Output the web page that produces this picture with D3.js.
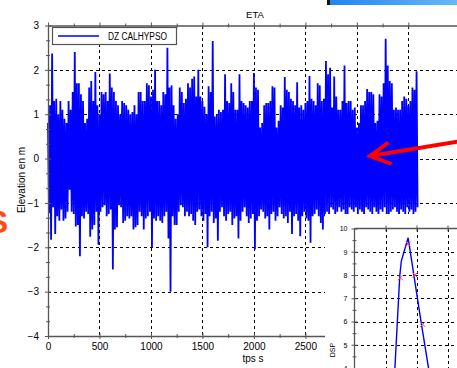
<!DOCTYPE html>
<html><head><meta charset="utf-8">
<script src="https://cdn.jsdelivr.net/npm/d3@7"></script>
<style>
html,body{margin:0;padding:0;background:#fff;overflow:hidden;}
svg{display:block;font-family:"Liberation Sans",Arial,Helvetica,sans-serif;}
</style></head><body>
<svg id="fig" width="457" height="368"></svg>
<script>
// Wave record DZ CALHYPSO: successive crest and trough elevations (m), one wave every dt seconds
const dt = 20;
const crest = [
 0.8,1.2,2.37,1.3,1.35,1.0,1.3,1.1,0.9,0.8, 1.3,1.1,1.5,2.4,1.7,1.7,1.45,1.3,0.8,0.9,
 1.6,1.75,1.3,1.95,1.2,1.0,1.5,1.45,1.5,1.3, 1.92,1.6,1.5,1.3,1.2,1.0,1.3,1.25,1.2,1.1,
 1.0,1.05,1.2,1.0,1.5,1.5,1.3,1.3,1.7,1.65, 1.4,1.55,2.0,1.3,1.3,1.2,1.5,1.45,2.5,1.6,
 1.65,1.2,0.9,1.0,1.6,1.5,1.25,1.35,1.7,1.6, 1.8,1.85,1.4,2.0,1.4,1.3,1.17,1.0,1.63,1.5,
 2.65,0.95,1.0,1.1,1.05,1.1,1.9,1.3,1.25,1.7, 1.5,1.1,1.1,1.9,1.3,1.25,1.2,1.15,1.3,1.3,
 1.93,1.6,1.55,0.7,0.8,1.2,1.25,1.25,1.3,1.63, 1.6,0.7,0.85,1.2,1.15,1.84,1.55,1.5,1.35,1.3,
 1.2,1.72,1.15,1.2,1.1,1.25,1.3,1.86,1.35,1.3, 1.2,1.7,1.65,1.3,1.35,2.2,1.9,2.05,1.15,1.85,
 1.4,1.1,1.1,1.3,2.1,1.25,1.3,1.3,1.1,1.15, 0.7,0.8,1.2,1.2,1.3,1.57,1.5,1.5,1.45,0.8,
 0.85,1.45,1.4,1.7,2.7,2.1,1.75,1.7,1.1,1.15, 1.1,1.1,1.3,1.4,1.35,1.2,1.3,1.6,1.55,1.97
];
const trough = [
 -1.23,-1.83,-1.1,-1.7,-1.3,-1.4,-1.15,-1.4,-1.35,-1.2, -0.7,-1.2,-1.25,-1.53,-1.5,-2.2,-1.3,-1.35,-1.2,-1.25,
 -1.76,-1.6,-1.5,-1.2,-1.94,-1.2,-1.1,-1.05,-1.3,-1.25, -1.15,-2.5,-1.6,-1.55,-1.05,-1.1,-1.45,-1.4,-1.3,-1.35,
 -1.3,-1.6,-1.55,-1.5,-1.2,-1.3,-1.6,-1.35,-1.3,-1.2, -2.0,-1.35,-1.4,-1.3,-1.4,-1.45,-1.3,-1.2,-1.8,-3.0,
 -1.3,-1.5,-1.5,-1.2,-1.05,-1.1,-1.3,-1.2,-1.3,-1.25, -1.4,-1.5,-1.2,-1.15,-1.3,-1.4,-1.25,-2.0,-1.3,-1.2,
 -1.45,-1.35,-1.85,-1.2,-1.1,-1.3,-1.4,-1.25,-1.2,-1.5, -1.35,-1.3,-1.8,-1.4,-1.2,-1.1,-1.3,-1.45,-1.35,-1.25,
 -2.05,-1.4,-1.3,-1.15,-1.2,-1.35,-1.3,-1.6,-1.25,-1.2, -1.4,-1.3,-1.1,-1.25,-1.35,-1.3,-1.45,-1.2,-1.7,-1.3,
 -1.25,-1.4,-1.75,-1.3,-1.2,-1.35,-1.4,-1.9,-1.3,-1.25, -1.15,-1.3,-1.45,-1.6,-1.3,-1.2,-1.25,-1.1,-1.15,-1.3,
 -1.2,-1.1,-1.2,-1.15,-1.25,-1.3,-1.1,-1.15,-1.2,-1.1, -1.25,-1.15,-1.2,-1.3,-1.1,-1.15,-1.2,-1.25,-1.1,-1.2,
 -1.3,-1.15,-1.2,-1.1,-1.25,-1.3,-1.2,-1.15,-1.1,-1.2, -1.3,-1.15,-1.2,-1.25,-1.1,-1.2,-1.15,-1.25,-1.2,-1.1
];

// Axis ticks of the ETA plot
const xTicks = [0,500,1000,1500,2000,2500,3000,3500];
const yTicks = [-4,-3,-2,-1,0,1,2,3];

// DSP panel: spectrum curve and its reference points
const dspT = [1.28,1.46,1.51,1.73,2.15,2.46];
const dspV = [3.4,7.96,8.6,9.6,5.96,3.4];
const markT = [1.48,1.73,1.95,2.20];
const markV = [7.88,9.33,8.0,5.88];
const dspYTicks = [4,5,6,7,8,9,10];
const dspXGrid = [1,2,3];

const svg = d3.select('#fig');
const AX = '#555';

const x = d3.scaleLinear().domain([0,4000]).range([48,459.8]);
const y = d3.scaleLinear().domain([-4,3]).range([336,25.5]);

// minor tick positions between majors
function minors(majors, n){
  const out=[];
  for(let k=0;k<majors.length-1;k++){
    const a=majors[k], b=majors[k+1];
    for(let j=1;j<=n;j++) out.push(a+(b-a)*j/(n+1));
  }
  return out;
}

// title
svg.append('text').attr('x',255).attr('y',17.5).attr('text-anchor','middle')
  .attr('font-size',9.5).text('ETA');

// grid
const grid = svg.append('g').attr('stroke','#000').attr('stroke-width',1)
  .attr('stroke-dasharray','3,3').attr('shape-rendering','crispEdges');
grid.selectAll('.gv').data(xTicks.filter(d=>d>0)).join('line')
  .attr('x1',d=>Math.round(x(d))+0.5).attr('x2',d=>Math.round(x(d))+0.5)
  .attr('y1',y(3)).attr('y2',y(-4));
grid.selectAll('.gh').data(yTicks.filter(d=>d>-4 && d<3)).join('line')
  .attr('y1',d=>Math.round(y(d))+0.5).attr('y2',d=>Math.round(y(d))+0.5)
  .attr('x1',x(0)).attr('x2',460);

// wave series: crest then trough for each wave
const series = [];
crest.forEach((c,i)=>{
  series.push([i*dt, c]);
  series.push([i*dt+dt/2, trough[i]]);
});
svg.append('path').datum(series)
  .attr('fill','none').attr('stroke','#0000ff').attr('stroke-width',1.8)
  .attr('stroke-linejoin','bevel')
  .attr('d', d3.line().x(d=>x(d[0])).y(d=>y(d[1])));

// axes with ticks crossing the axis line
function styleAxis(g, fs){
  g.select('.domain').attr('stroke',AX).attr('stroke-width',1.3);
  g.selectAll('.tick line').attr('stroke',AX).attr('stroke-width',1);
  g.selectAll('.tick text').attr('fill','#000').attr('font-size',fs)
    .attr('font-family','"Liberation Sans",Arial,sans-serif');
}
const gLeft = svg.append('g').attr('transform','translate(48,0)')
  .call(d3.axisLeft(y).tickValues(yTicks).tickSize(3).tickSizeOuter(0).tickPadding(6).tickFormat(d3.format('d')));
gLeft.selectAll('.tick line').attr('x1',3);
styleAxis(gLeft,10);
const gLeftMin = svg.append('g').attr('transform','translate(48,0)')
  .call(d3.axisLeft(y).tickValues(minors(yTicks,2)).tickSize(2).tickSizeOuter(0).tickFormat(''));
gLeftMin.select('.domain').remove();
gLeftMin.selectAll('.tick line').attr('x1',2).attr('stroke',AX);

const gBot = svg.append('g').attr('transform','translate(0,336)')
  .call(d3.axisBottom(x).tickValues(xTicks).tickSize(3).tickSizeOuter(0).tickPadding(4).tickFormat(d3.format('d')));
gBot.selectAll('.tick line').attr('y1',-3);
styleAxis(gBot,10);
const gBotMin = svg.append('g').attr('transform','translate(0,336)')
  .call(d3.axisBottom(x).tickValues(minors(xTicks,1)).tickSize(2).tickSizeOuter(0).tickFormat(''));
gBotMin.select('.domain').remove();
gBotMin.selectAll('.tick line').attr('y1',-2).attr('stroke',AX);

const gTop = svg.append('g').attr('transform','translate(0,25.5)')
  .call(d3.axisTop(x).tickValues(xTicks).tickSize(3).tickSizeOuter(0).tickFormat(''));
gTop.selectAll('.tick line').attr('y1',3);
styleAxis(gTop,10);
const gTopMin = svg.append('g').attr('transform','translate(0,25.5)')
  .call(d3.axisTop(x).tickValues(minors(xTicks,1)).tickSize(2).tickSizeOuter(0).tickFormat(''));
gTopMin.select('.domain').remove();
gTopMin.selectAll('.tick line').attr('y1',2).attr('stroke',AX);

// axis titles
svg.append('text').attr('x',253).attr('y',362).attr('text-anchor','middle')
  .attr('font-size',10).text('tps s');
svg.append('text').attr('transform','translate(25,180) rotate(-90)')
  .attr('text-anchor','middle').attr('font-size',10).text('Elevation en m');

// legend
const lg = svg.append('g');
lg.append('rect').attr('x',52.5).attr('y',27.5).attr('width',124).attr('height',17)
  .attr('fill','#fff').attr('stroke',AX).attr('stroke-width',1.2);
lg.append('line').attr('x1',58).attr('x2',99).attr('y1',36).attr('y2',36)
  .attr('stroke','#0000ff').attr('stroke-width',1.5);
lg.append('text').attr('x',108).attr('y',39.5).attr('font-size',10)
  .attr('textLength',59).attr('lengthAdjust','spacingAndGlyphs').text('DZ CALHYPSO');

// DSP panel
const inset = svg.append('g');
inset.append('rect').attr('x',325).attr('y',214).attr('width',140).attr('height',160).attr('fill','#fff');
const xi = d3.scaleLinear().domain([0,4]).range([354.5,478.5]);
const yi = d3.scaleLinear().domain([4,10]).range([368,228.5]);

const ig = inset.append('g').attr('stroke','#000').attr('stroke-width',1)
  .attr('stroke-dasharray','3,3').attr('shape-rendering','crispEdges');
ig.selectAll('.iv').data(dspXGrid).join('line')
  .attr('x1',d=>Math.round(xi(d))+0.5).attr('x2',d=>Math.round(xi(d))+0.5)
  .attr('y1',yi(10)).attr('y2',372);
ig.selectAll('.ih').data(dspYTicks.filter(d=>d<10)).join('line')
  .attr('y1',d=>Math.round(yi(d))+0.5).attr('y2',d=>Math.round(yi(d))+0.5)
  .attr('x1',xi(0)).attr('x2',460);

inset.append('path').datum(dspT.map((t,i)=>[t,dspV[i]]))
  .attr('fill','none').attr('stroke','#0000ff').attr('stroke-width',1.4)
  .attr('d', d3.line().x(d=>xi(d[0])).y(d=>yi(d[1])));

const mk = inset.append('g').attr('stroke','#ff4040').attr('stroke-width',1);
markT.forEach((t,i)=>{
  const cx = xi(t), cy = yi(markV[i]), s = 2.5;
  mk.append('line').attr('x1',cx-s).attr('y1',cy-s).attr('x2',cx+s).attr('y2',cy+s);
  mk.append('line').attr('x1',cx-s).attr('y1',cy+s).attr('x2',cx+s).attr('y2',cy-s);
});

const giL = inset.append('g').attr('transform','translate(354.5,0)')
  .call(d3.axisLeft(yi).tickValues(dspYTicks).tickSize(3).tickSizeOuter(0).tickPadding(4).tickFormat(d3.format('d')));
giL.selectAll('.tick line').attr('x1',3);
styleAxis(giL,7);
giL.select('.domain').attr('d','M0,228.5V372');
const giLm = inset.append('g').attr('transform','translate(354.5,0)')
  .call(d3.axisLeft(yi).tickValues(minors(dspYTicks,1)).tickSize(2).tickSizeOuter(0).tickFormat(''));
giLm.select('.domain').remove();
giLm.selectAll('.tick line').attr('x1',2).attr('stroke',AX);

const giT = inset.append('g').attr('transform','translate(0,228.5)')
  .call(d3.axisTop(xi).tickValues(dspXGrid).tickSize(3).tickSizeOuter(0).tickFormat(''));
giT.selectAll('.tick line').attr('y1',3);
styleAxis(giT,7);
giT.select('.domain').attr('d','M354.5,0H460');

inset.append('text').attr('transform','translate(334.5,350) rotate(-90)')
  .attr('text-anchor','middle').attr('font-size',7).text('DSP');

// large letter at the left edge
svg.append('text').attr('x',8).attr('y',233).attr('text-anchor','end')
  .attr('font-size',32).attr('font-weight','bold').attr('fill','#ff4a14').text('S');

// pointer arrow
svg.append('path').attr('d','M461,141 L370,156 M391.5,164 L370,156 L388.5,142.5')
  .attr('fill','none').attr('stroke','#ff0000').attr('stroke-width',4)
  .attr('stroke-linejoin','miter').attr('stroke-linecap','butt');

// window strip in the top-right corner
const defs = svg.append('defs');
const lgr = defs.append('linearGradient').attr('id','strip');
lgr.append('stop').attr('offset','0%').attr('stop-color','#2384ec');
lgr.append('stop').attr('offset','100%').attr('stop-color','#66b9f7');
svg.append('rect').attr('x',327).attr('y',0).attr('width',3).attr('height',5).attr('fill','#111');
svg.append('rect').attr('x',330).attr('y',0).attr('width',127).attr('height',5).attr('fill','url(#strip)');
</script>
</body></html>
